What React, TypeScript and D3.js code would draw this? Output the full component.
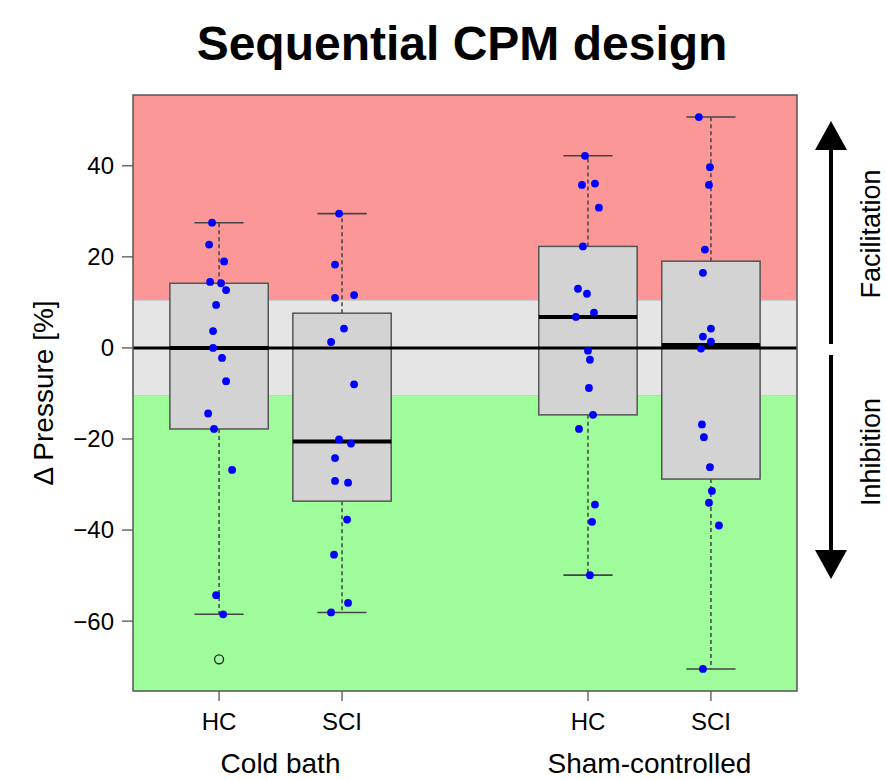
import React from "react";
import * as d3 from "d3";

// ---- data ----
const groupLabels = ["Cold bath", "Sham-controlled"];
const boxLabels = ["HC", "SCI", "HC", "SCI"];
const boxPositions = [1, 2, 4, 5];

const coldHC = [27.5, 22.7, 19.0, 14.5, 14.2, 12.7, 9.45, 3.7, 0, -2.2, -7.3, -14.4, -17.8, -26.8, -54.3, -58.5, -68.4];
const coldHCJitter = [-0.057, -0.081, 0.041, -0.073, 0.016, 0.057, -0.024, -0.049, -0.049, 0.024, 0.057, -0.089, -0.041, 0.106, -0.024, 0.033, 0];

const coldSCI = [29.5, 18.3, 11.6, 11.0, 4.25, 1.3, -8.0, -20.1, -21.0, -24.2, -29.2, -29.6, -37.7, -45.4, -56.0, -58.1];
const coldSCIJitter = [-0.024, -0.057, 0.098, -0.057, 0.016, -0.089, 0.098, -0.024, 0.073, -0.057, -0.057, 0.049, 0.041, -0.065, 0.049, -0.089];

const shamHC = [42.2, 36.1, 35.8, 30.8, 22.3, 13.0, 11.9, 7.77, 6.8, -0.6, -2.6, -8.8, -14.7, -17.8, -34.4, -38.2, -49.9];
const shamHCJitter = [-0.024, 0.057, -0.049, 0.089, -0.041, -0.081, -0.008, 0.049, -0.098, 0, 0.016, 0.008, 0.041, -0.073, 0.057, 0.033, 0.016];

const shamSCI = [50.7, 39.7, 35.8, 21.6, 16.5, 4.25, 2.5, 1.4, -0.15, -16.8, -19.6, -26.2, -31.4, -34.0, -39.0, -70.5];
const shamSCIJitter = [-0.098, -0.008, -0.016, -0.049, -0.065, 0, -0.065, 0, -0.081, -0.073, -0.057, -0.008, 0.008, -0.016, 0.065, -0.065];

const seriesValues = [coldHC, coldSCI, shamHC, shamSCI];
const seriesJitter = [coldHCJitter, coldSCIJitter, shamHCJitter, shamSCIJitter];

const yTicks = [-60, -40, -20, 0, 20, 40];
const bandLimit = 10.5;

// ---- helpers ----
function fivenum(values: number[]) {
  const x = [...values].sort((a, b) => a - b);
  const n = x.length;
  const n4 = Math.floor((n + 3) / 2) / 2;
  const d = [1, n4, (n + 1) / 2, n + 1 - n4, n];
  return d.map((di) => 0.5 * (x[Math.floor(di) - 1] + x[Math.ceil(di) - 1]));
}

function boxStats(values: number[]) {
  const [, q1, med, q3] = fivenum(values);
  const iqr = q3 - q1;
  const lo = q1 - 1.5 * iqr;
  const hi = q3 + 1.5 * iqr;
  const inside = values.filter((v) => v >= lo && v <= hi);
  return {
    q1,
    med,
    q3,
    wLo: d3.min(inside) as number,
    wHi: d3.max(inside) as number,
    outliers: values.filter((v) => v < lo || v > hi),
    lo,
    hi,
  };
}

const FONT = "'Liberation Sans', Arial, Helvetica, sans-serif";

export default function App() {
  const W = 887;
  const H = 780;
  const left = 133;
  const right = 797;
  const top = 95;
  const bottom = 691;

  const allVals = seriesValues.flat();
  const dMin = d3.min(allVals) as number;
  const dMax = d3.max(allVals) as number;
  const pad = (dMax - dMin) * 0.04;
  const y = d3.scaleLinear().domain([dMin - pad, dMax + pad]).range([bottom, top]);

  const xMin = d3.min(boxPositions)! - 0.5;
  const xMax = d3.max(boxPositions)! + 0.5;
  const xPad = (xMax - xMin) * 0.04;
  const x = d3.scaleLinear().domain([xMin - xPad, xMax + xPad]).range([left, right]);

  const unit = x(1) - x(0);
  const boxW = 0.8 * unit;
  const capW = 0.4 * unit;

  const stats = seriesValues.map(boxStats);

  const boxStroke = "#555555";
  const arrowX = 831;

  return (
    <svg width={W} height={H} style={{ position: "absolute", left: 0, top: 0, display: "block", background: "#fff" }} fontFamily={FONT}>
      {/* title */}
      <text x={462} y={60} textAnchor="middle" fontSize={48} fontWeight="bold" fill="#000">
        Sequential CPM design
      </text>

      {/* bands */}
      <rect x={left} y={top} width={right - left} height={y(bandLimit) - top} fill="#fc9797" />
      <rect x={left} y={y(bandLimit)} width={right - left} height={y(-bandLimit) - y(bandLimit)} fill="#e5e5e5" stroke="#bdbdbd" strokeWidth={1} />
      <rect x={left} y={y(-bandLimit)} width={right - left} height={bottom - y(-bandLimit)} fill="#9ffc9a" />

      {/* boxes */}
      {stats.map((s, i) => {
        const cx = x(boxPositions[i]);
        return (
          <g key={"box" + i}>
            <line x1={cx} x2={cx} y1={y(s.q3)} y2={y(s.wHi)} stroke="#444" strokeWidth={1.5} strokeDasharray="4,3" />
            <line x1={cx} x2={cx} y1={y(s.q1)} y2={y(s.wLo)} stroke="#444" strokeWidth={1.5} strokeDasharray="4,3" />
            <line x1={cx - capW / 2} x2={cx + capW / 2} y1={y(s.wHi)} y2={y(s.wHi)} stroke="#444" strokeWidth={1.6} />
            <line x1={cx - capW / 2} x2={cx + capW / 2} y1={y(s.wLo)} y2={y(s.wLo)} stroke="#444" strokeWidth={1.6} />
            <rect x={cx - boxW / 2} y={y(s.q3)} width={boxW} height={y(s.q1) - y(s.q3)} fill="#d3d3d3" stroke={boxStroke} strokeWidth={1.5} />
            <line x1={cx - boxW / 2} x2={cx + boxW / 2} y1={y(s.med)} y2={y(s.med)} stroke="#000" strokeWidth={4} />
          </g>
        );
      })}

      {/* zero line */}
      <line x1={left} x2={right} y1={y(0)} y2={y(0)} stroke="#000" strokeWidth={3} />

      {/* outliers */}
      {stats.map((s, i) =>
        s.outliers.map((v, j) => (
          <circle key={`o${i}-${j}`} cx={x(boxPositions[i])} cy={y(v)} r={4.5} fill="none" stroke="#222" strokeWidth={1.3} />
        ))
      )}

      {/* points */}
      {seriesValues.map((vals, i) =>
        vals.map((v, j) => {
          const s = stats[i];
          if (v < s.lo || v > s.hi) return null;
          return <circle key={`p${i}-${j}`} cx={x(boxPositions[i] + seriesJitter[i][j])} cy={y(v)} r={3.9} fill="#0000ff" />;
        })
      )}

      {/* plot border */}
      <rect x={left} y={top} width={right - left} height={bottom - top} fill="none" stroke="#555" strokeWidth={1.5} />

      {/* y axis */}
      {yTicks.map((t) => (
        <g key={"yt" + t}>
          <line x1={left - 11} x2={left} y1={y(t)} y2={y(t)} stroke="#555" strokeWidth={1.3} />
          <text x={left - 19} y={y(t)} dy="0.35em" textAnchor="end" fontSize={24} fill="#000">
            {t < 0 ? "\u2212" + Math.abs(t) : String(t)}
          </text>
        </g>
      ))}
      <text transform={`translate(53, ${(top + bottom) / 2}) rotate(-90)`} textAnchor="middle" fontSize={28} fill="#000">
        Δ Pressure [%]
      </text>

      {/* x axis */}
      {boxPositions.map((p, i) => (
        <g key={"xt" + i}>
          <line x1={x(p)} x2={x(p)} y1={bottom} y2={bottom + 10} stroke="#555" strokeWidth={1.3} />
          <text x={x(p)} y={730} textAnchor="middle" fontSize={24} fill="#000">
            {boxLabels[i]}
          </text>
        </g>
      ))}
      {groupLabels.map((g, i) => (
        <text key={"g" + i} x={(x(boxPositions[i * 2]) + x(boxPositions[i * 2 + 1])) / 2} y={773} textAnchor="middle" fontSize={28} fill="#000">
          {g}
        </text>
      ))}

      {/* arrows */}
      <line x1={arrowX} x2={arrowX} y1={148} y2={344} stroke="#000" strokeWidth={4} />
      <path d={`M${arrowX},121 L${arrowX - 16},150 L${arrowX + 16},150 Z`} fill="#000" />
      <line x1={arrowX} x2={arrowX} y1={355} y2={552} stroke="#000" strokeWidth={4} />
      <path d={`M${arrowX},579 L${arrowX - 16},550 L${arrowX + 16},550 Z`} fill="#000" />
      <text transform={`translate(880, 234) rotate(-90)`} textAnchor="middle" fontSize={27} fill="#000">
        Facilitation
      </text>
      <text transform={`translate(880, 452) rotate(-90)`} textAnchor="middle" fontSize={27} fill="#000">
        Inhibition
      </text>
    </svg>
  );
}
